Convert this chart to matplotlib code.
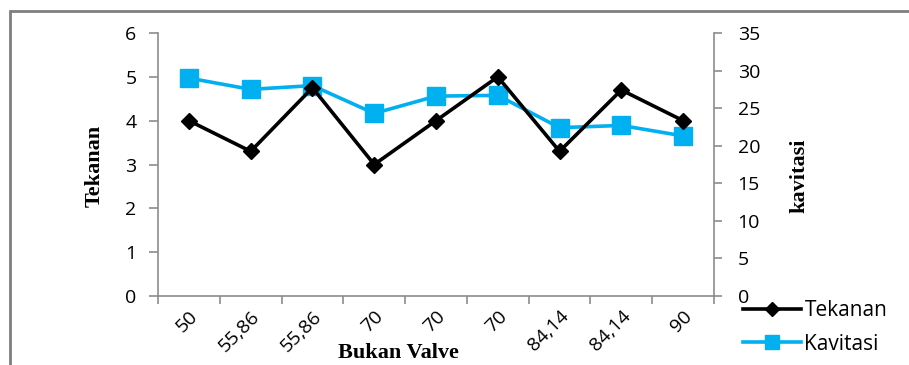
import matplotlib
matplotlib.use("Agg")
import matplotlib.pyplot as plt
from matplotlib.patches import Rectangle
import numpy as np

categories = ["50", "55,86", "55,86", "70", "70", "70", "84,14", "84,14", "90"]
tekanan = [4.0, 3.3, 4.75, 3.0, 4.0, 5.0, 3.3, 4.7, 4.0]
kavitasi = [29.0, 27.5, 28.0, 24.3, 26.6, 26.7, 22.4, 22.7, 21.3]

gray = "#8c8c8c"
blue = "#00b0f0"
tick_font = "Open Sans"
label_font = "Liberation Serif"

fig = plt.figure(figsize=(9.09, 3.65), dpi=100)
ax = fig.add_axes([158 / 909, 1 - 296 / 365, (714 - 158) / 909, (296 - 33) / 365])
ax2 = ax.twinx()

x = np.arange(len(categories))
l1, = ax.plot(x, tekanan, color="black", lw=2.6, marker="D", ms=8.5, zorder=3)
l2, = ax2.plot(x, kavitasi, color=blue, lw=2.6, marker="s", ms=13)
ax.set_zorder(ax2.get_zorder() + 1)
ax.patch.set_visible(False)

ax.set_xlim(-0.5, len(categories) - 0.5)
ax.set_ylim(0, 6)
ax2.set_ylim(0, 35)
ax.set_yticks(range(0, 7))
ax2.set_yticks(range(0, 36, 5))

ax.set_xticks(x)
ax.set_xticklabels(categories, rotation=45, ha="right", rotation_mode="anchor",
                   fontsize=14, family=tick_font)
ax.set_xticks(np.arange(-0.5, len(categories)), minor=True)
ax.tick_params(axis="x", which="major", length=0, pad=8)
ax.tick_params(axis="x", which="minor", length=6, color=gray, width=1.2)
ax.tick_params(axis="y", length=6.5, color=gray, width=1.2, labelsize=14, pad=9)
ax2.tick_params(axis="y", length=6, color=gray, width=1.2, labelsize=14, pad=11)
for lab in ax.get_yticklabels() + ax2.get_yticklabels():
    lab.set_family(tick_font)

for a in (ax, ax2):
    a.spines["top"].set_visible(False)
    for s in ("left", "right", "bottom"):
        a.spines[s].set_color(gray)
        a.spines[s].set_linewidth(1.2)
ax.spines["right"].set_visible(False)
ax2.spines["left"].set_visible(False)
ax2.spines["bottom"].set_visible(False)

fig.text(95 / 909, 1 - 166 / 365, "Tekanan", rotation=90, ha="center", va="center",
         fontsize=16, fontweight="bold", family=label_font)
fig.text(799 / 909, 1 - 176 / 365, "kavitasi", rotation=90, ha="center", va="center",
         fontsize=16, fontweight="bold", family=label_font)
fig.text(398 / 909, 1 - 353 / 365, "Bukan Valve", ha="center", va="center",
         fontsize=16, fontweight="bold", family=label_font)

leg = fig.legend([l1, l2], ["Tekanan", "Kavitasi"], loc="upper left",
                 bbox_to_anchor=(743 / 909, 1 - 300 / 365), frameon=False,
                 handlelength=2.8, handletextpad=0.15, labelspacing=0.6,
                 borderaxespad=0, borderpad=0, markerscale=0.8,
                 prop={"family": tick_font, "size": 15})

fig.patches.append(Rectangle((10 / 909, -0.1), 1.1, 1 - 11 / 365 + 0.1,
                             transform=fig.transFigure, fill=False,
                             edgecolor="#7f7f7f", lw=2))

fig.savefig("out.png", dpi=100)
